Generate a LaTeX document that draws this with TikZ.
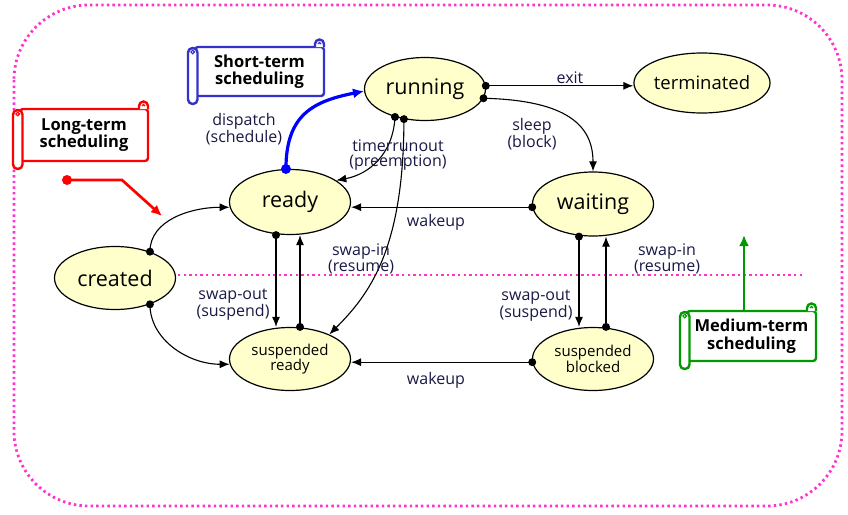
\documentclass[tikz,border=0pt]{standalone}
\usepackage{fontspec}
\setmainfont{Open Sans}
\usetikzlibrary{shapes.geometric,arrows.meta}
\definecolor{stfill}{RGB}{255,255,204}
\definecolor{lbl}{RGB}{25,25,70}
\definecolor{pinkdot}{RGB}{255,51,204}
\definecolor{scrred}{RGB}{255,0,0}
\definecolor{scrblue}{RGB}{51,51,204}
\definecolor{scrgreen}{RGB}{0,153,0}
\definecolor{dispblue}{RGB}{0,0,255}
\newcommand\myscroll[5]{%
  \draw[#1,line width=2.4pt,fill=white,rounded corners=3pt] (#2,#3) -- (#4,#3) -- (#4,#5) -- (#2,#5) -- cycle;
  \draw[#1,line width=2.4pt,fill=white] (#4,#3) -- (#4,#3-3) arc[start angle=360,end angle=180,radius=4.5] -- (#4-9,#3);
  \draw[#1,line width=1.1pt] (#4-6,#3-3) arc[start angle=180,end angle=360,radius=1.5];
  \draw[#1,line width=2.4pt,fill=white,rounded corners=4.5pt] (#2-7,#3+1) rectangle (#2+2.5,#5+8);
  \draw[#1,line width=1.1pt] (#2-2.3,#3+5) circle[radius=1.8];
}
\begin{document}
\begin{tikzpicture}[x=1pt,y=-1pt,
  state/.style={ellipse,draw=black,line width=1.2pt,fill=stfill,minimum width=121pt,minimum height=63pt,inner sep=0pt,font=\fontsize{21.5}{23}\selectfont},
  sstate/.style={state,font=\fontsize{15}{15.5}\selectfont,align=center},
  lab/.style={text=lbl,font=\fontsize{16}{15}\selectfont,align=center,inner sep=0pt},
  tr/.style={line width=1.1pt,-{Latex[length=10pt,width=8pt]}},
  scrtext/.style={font=\bfseries\fontsize{16.5}{17.5}\selectfont,align=center,inner sep=0pt,text=black},
  pinkline/.style={draw=pinkdot,line width=2.8pt,dash pattern=on 2.4pt off 3.2pt}
]
\useasboundingbox (0,0) rectangle (848,514);
\draw[pinkline,rounded corners=75pt] (14,5) rectangle (842,506);
\draw[pinkline] (178,275) -- (805,275);

% states
\node[state] (running) at (425,89) {running};
\node[state,font=\fontsize{18.5}{20}\selectfont,minimum height=60pt] (terminated) at (702,83) {terminated};
\node[state,minimum height=65pt] (ready) at (290,202) {ready};
\node[state,minimum height=64pt] (waiting) at (593,204) {waiting};
\node[state] (created) at (115,278) {created};
\node[sstate] (sready) at (290,359) {suspended\\ready};
\node[sstate] (sblocked) at (593,359) {suspended\\blocked};

% scrolls
\myscroll{scrred}{20}{109}{148}{161}
\node[scrtext,minimum width=128pt,minimum height=52pt] (longterm) at (84,135) {Long-term\\scheduling};
\myscroll{scrblue}{195}{47}{324}{96}
\node[scrtext,minimum width=129pt,minimum height=49pt] (shortterm) at (259.5,71.5) {Short-term\\scheduling};
\myscroll{scrgreen}{687}{311}{816}{361}
\node[scrtext,minimum width=129pt,minimum height=50pt] (mediumterm) at (751.5,336) {Medium-term\\scheduling};

% transitions
\draw[tr] (created.37) .. controls +(0,-32) and +(-38,0) .. (ready.185);
\draw[tr] (created.-37) .. controls +(0,35) and +(-42,0) .. (sready.185);
\draw[tr] ([xshift=-14pt]ready.south) -- ([xshift=-14pt]sready.north);
\draw[tr] ([xshift=10pt]sready.north) -- ([xshift=10pt]ready.south);
\draw[tr] ([xshift=-14pt]waiting.south) -- ([xshift=-14pt]sblocked.north);
\draw[tr] ([xshift=13pt]sblocked.north) -- ([xshift=13pt]waiting.south);
\draw[tr] (waiting.183) -- (waiting.183 -| ready.east);
\draw[tr] (sblocked.183) -- (sblocked.183 -| sready.east);
\draw[tr] (running.3) -- (running.3 -| terminated.west);
\draw[tr] (running.-9) .. controls +(85,2) and +(0,-45) .. (waiting.north);
\draw[tr] (running.223) .. controls +(-2,38) and +(32,-6) .. (ready.25);
\draw[tr] (running.235) .. controls +(0,130) and +(40,-40) .. (sready.32);
\draw[dispblue,line width=3.2pt,-{Latex[length=11pt,width=10pt]}] (ready.97) .. controls +(0,-55) and +(-50,10) .. (running.182);

% start dots
\foreach \p in {created.37,created.-37,running.3,running.-9,running.223,running.235,waiting.183,sblocked.183}
  \fill (\p) circle[radius=4pt];
\fill ([xshift=-14pt]ready.south) circle[radius=4pt];
\fill ([xshift=10pt]sready.north) circle[radius=4pt];
\fill ([xshift=-14pt]waiting.south) circle[radius=4pt];
\fill ([xshift=13pt]sblocked.north) circle[radius=4pt];
\fill[dispblue] (ready.97) circle[radius=5pt];

% long-term arrow
\coordinate (rs) at (67,180);
\coordinate (rb) at (122,180);
\coordinate (re) at (162,216);
\draw[scrred,line width=2.7pt,-{Latex[length=11pt,width=10pt]}] (rs) -- (rb) -- (re);
\fill[scrred] (rs) circle[radius=5pt];

% medium-term arrow
\coordinate (gend) at (744,235);
\draw[scrgreen,line width=2.7pt,-{Latex[length=11pt,width=10pt]}] ([xshift=-7.5pt]mediumterm.north) -- (gend);

% labels
\node[lab] (lexit) at (570,78) {exit};
\node[lab] (lsleep) at (532,134) {sleep\\(block)};
\node[lab] (ltimer) at (398,155) {timerrunout\\(preemption)};
\node[lab] (ldisp) at (244,129) {dispatch\\(schedule)};
\node[lab] (lwake1) at (436,222) {wakeup};
\node[lab] (lwake2) at (436,380) {wakeup};
\node[lab] (lswapin1) at (361,259) {swap-in\\(resume)};
\node[lab] (lswapin2) at (667,259) {swap-in\\(resume)};
\node[lab] (lswapout1) at (233,305) {swap-out\\(suspend)};
\node[lab] (lswapout2) at (536,306) {swap-out\\(suspend)};
\end{tikzpicture}
\end{document}
